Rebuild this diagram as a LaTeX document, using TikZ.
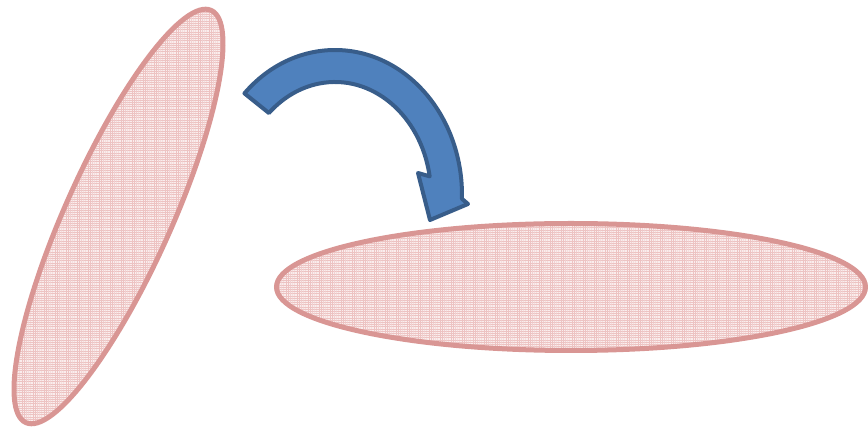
\documentclass[tikz,border=0pt]{standalone}
\usetikzlibrary{calc,patterns.meta}
\definecolor{ellfill}{HTML}{FAEDED}
\definecolor{ellgrid}{HTML}{EDC3C2}
\definecolor{elldraw}{HTML}{D99694}
\definecolor{arrfill}{HTML}{4F81BD}
\definecolor{arrdraw}{HTML}{385D8A}
\tikzdeclarepattern{name=finegrid, type=uncolored,
  bottom left={(-0.1pt,-0.1pt)}, top right={(2.3pt,2.3pt)},
  tile size={(2.2pt,2.2pt)},
  code={\draw[line width=0.7pt] (0pt,0pt) -- (2.2pt,0pt) (0pt,0pt) -- (0pt,2.2pt);}}
\begin{document}
\begin{tikzpicture}[x=1pt,y=1pt,
  blob/.style={draw=elldraw,line width=5pt},
  gridfill/.style={pattern=finegrid,pattern color=ellgrid},
  bentarrow/.style={fill=arrfill,draw=arrdraw,line width=4pt,line join=round}]
\useasboundingbox (0,0) rectangle (868,428);
% tilted ellipse
\fill[ellfill] (118.5,211.5) ellipse[x radius=226pt, y radius=53pt, rotate=65.8];
\fill[gridfill] (118.5,211.5) ellipse[x radius=226pt, y radius=53pt, rotate=65.8];
\draw[blob] (118.5,211.5) ellipse[x radius=226pt, y radius=53pt, rotate=65.8];
% horizontal ellipse
\fill[ellfill] (571,141) ellipse[x radius=294.5pt, y radius=63.5pt];
\fill[gridfill] (571,141) ellipse[x radius=294.5pt, y radius=63.5pt];
\draw[blob] (571,141) ellipse[x radius=294.5pt, y radius=63.5pt];
% curved arrow
\coordinate (c) at (335,233);
\draw[bentarrow] ($(c)+(135.5:127pt and 145pt)$)
  arc[start angle=135.5, end angle=-1.5, x radius=127pt, y radius=145pt]
  -- (468,224) -- (430,208) -- (418,255)
  -- ($(c)+(9.5:96pt and 113pt)$)
  arc[start angle=9.5, end angle=133.5, x radius=96pt, y radius=113pt]
  -- cycle;
\end{tikzpicture}
\end{document}
